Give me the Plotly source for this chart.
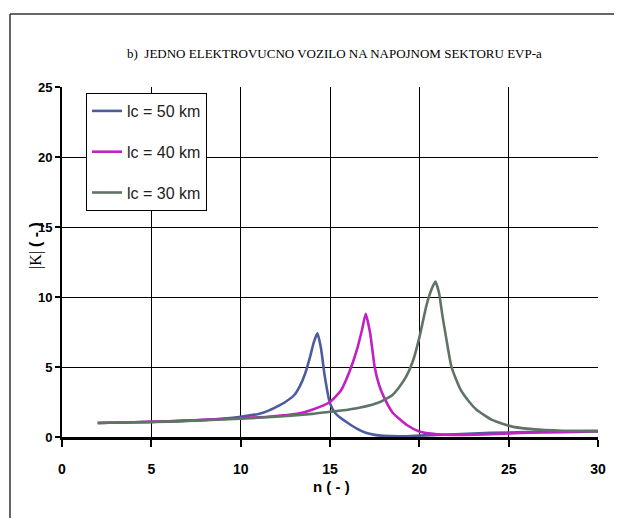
import plotly.graph_objects as go

# ---- data ----
n_50 = [2, 4, 6, 8, 10, 11, 11.5, 12, 12.5, 13, 13.3, 13.6, 13.9, 14.1, 14.3, 14.5, 14.7, 15.0, 15.3, 15.6, 16.0, 16.5, 17.0, 17.5, 18, 19, 20, 22, 24, 26, 28, 30]
k_50 = [1.0, 1.05, 1.12, 1.22, 1.45, 1.65, 1.85, 2.15, 2.5, 3.0, 3.6, 4.5, 5.8, 6.8, 7.4, 6.3, 4.4, 2.4, 1.7, 1.35, 1.0, 0.6, 0.3, 0.15, 0.08, 0.05, 0.1, 0.2, 0.3, 0.35, 0.4, 0.45]

n_40 = [2, 4, 6, 8, 10, 11.5, 13.3, 14, 15, 15.6, 16.1, 16.5, 16.8, 17.0, 17.25, 17.5, 17.75, 18.0, 18.5, 19.3, 20.0, 21, 22, 24, 26, 28, 30]
k_40 = [1.0, 1.05, 1.12, 1.22, 1.35, 1.45, 1.7, 1.95, 2.5, 3.3, 4.7, 6.2, 7.7, 8.8, 7.4, 5.0, 3.7, 2.9, 1.75, 0.86, 0.4, 0.2, 0.15, 0.2, 0.3, 0.35, 0.4]

n_30 = [2, 4, 6, 8, 10, 12, 14, 15, 16, 16.7, 17.8, 18.5, 18.9, 19.3, 19.66, 20.0, 20.4, 20.7, 20.9, 21.1, 21.3, 21.5, 21.8, 22.3, 22.8, 23.2, 24.1, 25.2, 26, 27, 28, 30]
k_30 = [1.0, 1.05, 1.1, 1.2, 1.3, 1.45, 1.65, 1.8, 1.95, 2.1, 2.5, 3.0, 3.6, 4.4, 5.5, 7.1, 9.4, 10.6, 11.1, 10.3, 8.6, 7.1, 5.0, 3.4, 2.5, 1.95, 1.2, 0.74, 0.6, 0.5, 0.45, 0.4]

series_names = ["lc = 50 km", "lc = 40 km", "lc = 30 km"]
series_colors = ["#4c5c9e", "#c21fc4", "#5f7466"]

x_ticks = [0, 5, 10, 15, 20, 25, 30]
y_ticks = [0, 5, 10, 15, 20, 25]

title_text = "b)&#160; JEDNO ELEKTROVUCNO VOZILO NA NAPOJNOM SEKTORU EVP-a"

# page body has an 8px margin: work in window pixels, shift by OFF
OFF = 8
W, H = 622 - OFF, 518 - OFF
PL, PR, PT, PB = 62, 598, 87, 437  # plot area in window pixels
ML, MR, MT, MB = PL - OFF, W - (PR - OFF), PT - OFF, H - (PB - OFF)

fig = go.Figure()
for i, (xs, ys) in enumerate([(n_50, k_50), (n_40, k_40), (n_30, k_30)]):
    fig.add_trace(go.Scatter(
        x=xs, y=ys, mode="lines", name=series_names[i],
        legendgroup=f"g{i}",
        line=dict(color=series_colors[i], width=2.6, shape="spline", smoothing=0.5),
    ))

sans = "Liberation Sans, Arial, sans-serif"
serif = "Liberation Serif, Times New Roman, serif"

pw = PR - PL
ph = PB - PT
def px_x(p):
    return (p - PL) / pw
def px_y(p):
    return (PB - p) / ph

fig.update_layout(
    width=W, height=H,
    margin=dict(l=ML, r=MR, t=MT, b=MB),
    paper_bgcolor="white", plot_bgcolor="white",
    showlegend=True,
    legend=dict(
        x=px_x(86), y=px_y(93),
        xanchor="left", yanchor="top",
        bgcolor="white", bordercolor="black", borderwidth=1,
        font=dict(family=sans, size=16, color="#222"),
        tracegroupgap=17, traceorder="grouped",
        itemwidth=30,
    ),
    xaxis=dict(
        range=[0, 30], tickvals=x_ticks, ticktext=[str(v) for v in x_ticks],
        showgrid=True, gridcolor="black", gridwidth=1.3,
        showline=True, linecolor="black", linewidth=3,
        ticks="outside", ticklen=7, tickwidth=2, tickcolor="black",
        tickfont=dict(family=sans, size=14, color="black", weight="bold"),
        ticklabelstandoff=10,
        zeroline=False,
    ),
    yaxis=dict(
        range=[0, 25], tickvals=y_ticks, ticktext=[str(v) for v in y_ticks],
        showgrid=True, gridcolor="black", gridwidth=1.3,
        showline=True, linecolor="black", linewidth=2,
        ticks="outside", ticklen=5, tickwidth=2, tickcolor="black",
        tickfont=dict(family=sans, size=13, color="black", weight="bold"),
        zeroline=False,
    ),
)

# outer frame of the picture
fig.add_shape(type="line", xref="paper", yref="paper",
              x0=px_x(10), x1=px_x(10), y0=px_y(14), y1=px_y(540),
              line=dict(color="#333", width=1.5))
fig.add_shape(type="line", xref="paper", yref="paper",
              x0=px_x(10), x1=px_x(660), y0=px_y(14), y1=px_y(14),
              line=dict(color="#333", width=1.5))

fig.add_annotation(text=title_text, xref="paper", yref="paper",
                   x=px_x(334), y=px_y(44), showarrow=False,
                   font=dict(family=serif, size=13, color="black"))

fig.add_annotation(text="n ( - )", xref="paper", yref="paper",
                   x=px_x(331), y=px_y(497), showarrow=False,
                   font=dict(family=sans, size=15, color="black", weight="bold"))

fig.add_annotation(text="|K|&#160;<b><span style='font-family:Liberation Sans, Arial, sans-serif'>( - )</span></b>",
                   xref="paper", yref="paper",
                   x=px_x(25), y=px_y(246), showarrow=False, textangle=-90,
                   font=dict(family=serif, size=16, color="black"))

fig.write_html("out.html")
